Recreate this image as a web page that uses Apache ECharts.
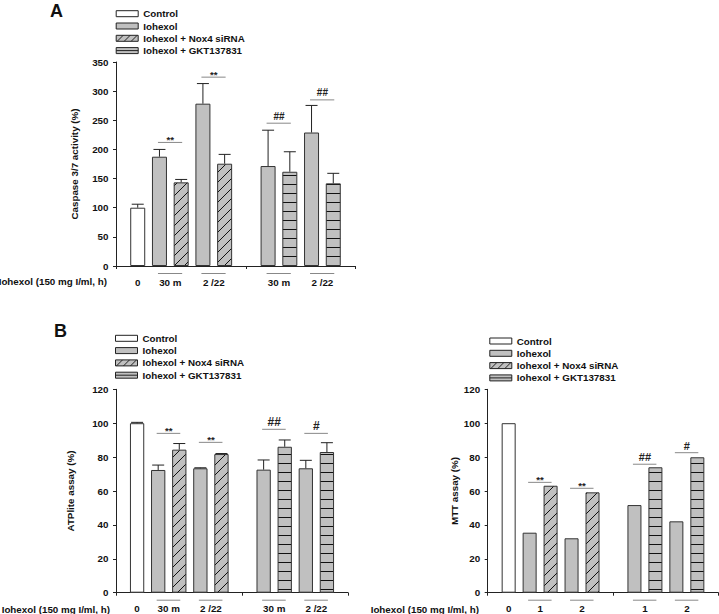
<!DOCTYPE html>
<html><head><meta charset="utf-8">
<script src="https://cdn.jsdelivr.net/npm/echarts@6/dist/echarts.min.js"></script>
<style>html,body{margin:0;padding:0;background:#fff}#c{width:719px;height:614px}</style>
</head><body><div id="c"></div>
<script>
// ---------- data ----------
const seriesNames = ['Control', 'Iohexol', 'Iohexol + Nox4 siRNA', 'Iohexol + GKT137831'];
const barPositions = [1, 2, 3, 4, 5, 7, 8, 9, 10];
const barGroups = [0, 1, 2, 1, 2, 1, 3, 1, 3];

const caspaseMean = [100, 187.5, 143.5, 278.5, 175.5, 171.5, 161.7, 229, 141.8];
const caspaseSD = [6, 12.5, 5, 34.5, 16, 61.5, 34.3, 46.5, 17.2];
const atpMean = [100, 72.4, 84.4, 73.4, 81.8, 72.6, 86.1, 73.4, 83];
const atpSD = [0.5, 2.9, 3.6, 0.3, 0.3, 5.7, 4, 4.7, 5.5];
const mttMean = [100, 35.4, 63.1, 32.1, 59.2, 51.7, 74, 42.1, 79.9];

const xLabelPositions = [1, 2.5, 4.5, 7.5, 9.5];
const timeLabelsAB = ['0', '30 m', '2 /22', '30 m', '2 /22'];
const timeLabelsMTT = ['0', '1', '2', '1', '2'];
const xTickValues = [0, 6, 11];

const pairStarts = [2, 4, 7, 9];
const pairEnds = [3, 5, 8, 10];
const caspaseSigY = [212, 324, 245, 285];
const caspaseSigText = ['**', '**', '##', '##'];
const atpSigY = [94, 88.7, 96.4, 94];
const atpSigText = ['**', '**', '##', '#'];
const mttSigY = [65.1, 61.6, 75.8, 82.6];
const mttSigText = ['**', '**', '##', '#'];

const caspaseTicks = { max: 350, interval: 50 };
const percentTicks = { max: 120, interval: 20 };
const xTitle = 'Iohexol (150 mg I/ml, h)';

// ---------- styles ----------
const FONT = "'Liberation Sans', Arial, Helvetica, sans-serif";
const FS = 9.8;
const GRAY = '#c0c0c0';
const EDGE = '#333';

function tile(w, h, draw) {
  const c = document.createElement('canvas');
  c.width = w; c.height = h;
  const g = c.getContext('2d');
  g.fillStyle = GRAY; g.fillRect(0, 0, w, h);
  draw(g);
  return c;
}
const hatchTile = tile(10, 10, g => {
  g.strokeStyle = '#111'; g.lineWidth = 1;
  g.beginPath();
  g.moveTo(0, 10); g.lineTo(10, 0);
  g.moveTo(-2, 2); g.lineTo(2, -2);
  g.moveTo(8, 12); g.lineTo(12, 8);
  g.stroke();
});
const stripeTile = tile(4, 9, g => { g.fillStyle = '#111'; g.fillRect(0, 4, 4, 1); });

const fills = [
  '#ffffff',
  GRAY,
  { image: hatchTile, repeat: 'repeat' },
  { image: stripeTile, repeat: 'repeat' }
];

const legendIcons = [
  'path://M0,0H22V6H0Z',
  'path://M0,0H22V6H0Z',
  'path://M0,0H22V6H0Z M1,6L7,0 M8,6L14,0 M15,6L21,0',
  'path://M0,0H22V6H0Z M0,3H22'
];

// ---------- chart builder ----------
const grids = [], xAxes = [], yAxes = [], series = [], legends = [];

function addPanel(idx, grid, ticks, yName, yNameGap, barWidth, means, sds, sigY, sigText, xLabels, hashSize) {
  grids.push(Object.assign({ containLabel: false, outerBoundsMode: 'none' }, grid));
  xAxes.push({
    gridIndex: idx, type: 'value', min: 0, max: 11,
    axisLine: { show: true, lineStyle: { color: '#222', width: 1 } },
    axisTick: { show: true, length: 3, customValues: xTickValues, lineStyle: { color: '#222' } },
    axisLabel: {
      customValues: xLabelPositions, margin: 10,
      formatter: v => { const i = xLabelPositions.indexOf(v); return i >= 0 ? xLabels[i] : ''; },
      fontFamily: FONT, fontWeight: 'bold', fontSize: FS, color: '#111', lineHeight: 12
    },
    splitLine: { show: false }
  });
  yAxes.push({
    gridIndex: idx, type: 'value', min: 0, max: ticks.max, interval: ticks.interval,
    name: yName, nameLocation: 'middle', nameGap: yNameGap, nameRotate: 90,
    nameTextStyle: { fontFamily: FONT, fontWeight: 'bold', fontSize: FS, color: '#111' },
    axisLine: { show: true, lineStyle: { color: '#222', width: 1 } },
    axisTick: { show: true, length: 3, lineStyle: { color: '#222' } },
    axisLabel: { margin: 7.5, fontFamily: FONT, fontWeight: 'bold', fontSize: FS, color: '#111' },
    splitLine: { show: false }
  });
  for (let g = 0; g < 4; g++) {
    const data = [];
    barPositions.forEach((p, i) => { if (barGroups[i] === g) data.push([p, means[i]]); });
    series.push({
      type: 'bar', name: seriesNames[g], xAxisIndex: idx, yAxisIndex: idx,
      data, barWidth, barGap: '-100%', animation: false,
      itemStyle: { color: fills[g], borderColor: EDGE, borderWidth: 1 },
      emphasis: { disabled: true }
    });
  }
  if (sds) {
    series.push({
      type: 'custom', xAxisIndex: idx, yAxisIndex: idx, z: 5, animation: false, silent: true,
      data: barPositions.map((p, i) => [p, means[i], sds[i]]),
      renderItem(params, api) {
        const x = api.value(0), m = api.value(1), s = api.value(2);
        const a = api.coord([x, m]), b = api.coord([x, m + s]);
        return { type: 'group', children: [
          { type: 'line', shape: { x1: a[0], y1: a[1], x2: b[0], y2: b[1] }, style: { stroke: '#222', lineWidth: 1 } },
          { type: 'line', shape: { x1: b[0] - 6, y1: b[1], x2: b[0] + 6, y2: b[1] }, style: { stroke: '#222', lineWidth: 1 } }
        ] };
      }
    });
  }
  // significance bars
  series.push({
    type: 'custom', xAxisIndex: idx, yAxisIndex: idx, z: 5, animation: false, silent: true,
    data: pairStarts.map((s, i) => [s, pairEnds[i], sigY[i], i]),
    renderItem(params, api) {
      const a = api.coord([api.value(0), api.value(2)]);
      const b = api.coord([api.value(1), api.value(2)]);
      const t = sigText[api.value(3)];
      const star = t.indexOf('*') >= 0;
      return { type: 'group', children: [
        { type: 'line', shape: { x1: a[0] - 1.5, y1: a[1], x2: b[0] + 1, y2: b[1] }, style: { stroke: '#888', lineWidth: 1 } },
        { type: 'text', style: { text: t, x: (a[0] + b[0]) / 2, y: a[1] - (star ? 3 : 7),
          align: 'center', verticalAlign: 'middle',
          font: 'bold ' + (star ? 9.7 : hashSize) + 'px ' + FONT, fill: '#222' } }
      ] };
    }
  });
  // group underlines below the axis
  series.push({
    type: 'custom', xAxisIndex: idx, yAxisIndex: idx, z: 5, animation: false, silent: true, clip: false,
    data: pairStarts.map((s, i) => [s, pairEnds[i]]),
    renderItem(params, api) {
      const a = api.coord([api.value(0), 0]);
      const b = api.coord([api.value(1), 0]);
      return { type: 'line', shape: { x1: a[0] - 1.5, y1: a[1] + 7.5, x2: b[0] + 1, y2: b[1] + 7.5 }, style: { stroke: '#888', lineWidth: 1 } };
    }
  });
}

function addLegend(left, top) {
  legends.push({
    left, top, orient: 'vertical', itemWidth: 22, itemHeight: 6, itemGap: 0.3, padding: 0,
    selectedMode: false,
    textStyle: { fontFamily: FONT, fontWeight: 'bold', fontSize: FS, color: '#111', lineHeight: 12 },
    data: seriesNames.map((n, g) => ({
      name: n, icon: legendIcons[g],
      itemStyle: { color: g === 0 ? '#fff' : GRAY, borderColor: '#222', borderWidth: 1 }
    }))
  });
}

addPanel(0, { left: 116, top: 62, width: 239, height: 204 }, caspaseTicks, 'Caspase 3/7 activity (%)', 37, 15,
  caspaseMean, caspaseSD, caspaseSigY, caspaseSigText, timeLabelsAB, 10);
addPanel(1, { left: 116, top: 389.3, width: 232, height: 203.4 }, percentTicks, 'ATPlite assay (%)', 41, 14.3,
  atpMean, atpSD, atpSigY, atpSigText, timeLabelsAB, 12);
addPanel(2, { left: 487.7, top: 389.3, width: 230.6, height: 203.4 }, percentTicks, 'MTT assay (%)', 26, 14,
  mttMean, null, mttSigY, mttSigText, timeLabelsMTT, 11);

addLegend(115.7, 7.7);
addLegend(115, 332.3);
addLegend(489.3, 335);

const textBase = { fontFamily: FONT, fontWeight: 'bold', fill: '#111' };
const graphic = [
  { type: 'text', left: 50, top: 2, style: Object.assign({ text: 'A', fontSize: 18 }, textBase) },
  { type: 'text', left: 54, top: 322, style: Object.assign({ text: 'B', fontSize: 18 }, textBase) },
  { type: 'text', x: 107, y: 281.7, style: Object.assign({ text: xTitle, fontSize: FS, align: 'right', verticalAlign: 'middle' }, textBase) },
  { type: 'text', x: 110, y: 609.3, style: Object.assign({ text: xTitle, fontSize: FS, align: 'right', verticalAlign: 'middle' }, textBase) },
  { type: 'text', x: 479, y: 609.3, style: Object.assign({ text: xTitle, fontSize: FS, align: 'right', verticalAlign: 'middle' }, textBase) }
];

const chart = echarts.init(document.getElementById('c'), null, { renderer: 'svg' });
chart.setOption({
  backgroundColor: '#fff',
  animation: false,
  grid: grids, xAxis: xAxes, yAxis: yAxes, series, legend: legends, graphic
});
</script>
</body></html>
